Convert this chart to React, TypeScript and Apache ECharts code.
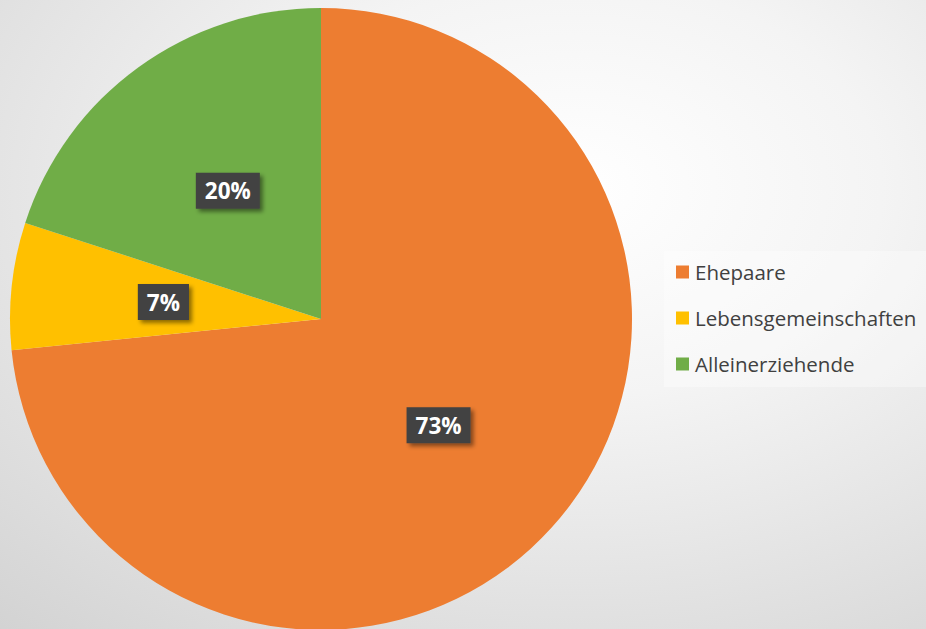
import React, { useEffect, useRef } from "react";
import * as echarts from "echarts";

const categories = ["Ehepaare", "Lebensgemeinschaften", "Alleinerziehende"];
const values = [73.4, 6.6, 20.0];
const colors = ["#ED7D31", "#FFC000", "#70AD47"];

export default function App() {
  const ref = useRef<HTMLDivElement>(null);
  useEffect(() => {
    if (!ref.current) return;
    const chart = echarts.init(ref.current, undefined, { renderer: "svg" });
    chart.setOption({
      animation: false,
      backgroundColor: {
        type: "radial",
        x: 0.62,
        y: 0.3,
        r: 0.95,
        colorStops: [
          { offset: 0, color: "#ffffff" },
          { offset: 0.35, color: "#f4f4f4" },
          { offset: 1, color: "#d2d2d2" },
        ],
      },
      legend: {
        orient: "vertical",
        left: 664,
        top: 251,
        padding: [10, 40, 12, 12],
        backgroundColor: "rgba(255,255,255,0.35)",
        icon: "rect",
        itemWidth: 13,
        itemHeight: 13,
        itemGap: 24,
        data: categories,
        textStyle: {
          fontFamily: "Open Sans",
          fontSize: 20.5,
          lineHeight: 22,
          color: "#404040",
          padding: [0, 0, 0, 1],
        },
      },
      series: [
        {
          type: "pie",
          center: [321, 319],
          radius: [0, 311],
          startAngle: 90,
          clockwise: true,
          label: {
            show: true,
            position: "inside",
            formatter: (p: any) => Math.round(p.value) + "%",
            fontFamily: "Open Sans",
            fontWeight: "bold",
            fontSize: 22.5,
            color: "#ffffff",
            backgroundColor: "#424242",
            padding: [7, 9, 6, 9],
            shadowColor: "rgba(0,0,0,0.45)",
            shadowBlur: 4,
            shadowOffsetX: 3,
            shadowOffsetY: 3,
          },
          labelLine: { show: false },
          emphasis: { disabled: true },
          data: categories.map((c, i) => ({
            name: c,
            value: values[i],
            itemStyle: { color: colors[i] },
          })),
        },
      ],
    });
    return () => chart.dispose();
  }, []);
  return (
    <div
      ref={ref}
      style={{ position: "absolute", left: 0, top: 0, width: 926, height: 629 }}
    />
  );
}
